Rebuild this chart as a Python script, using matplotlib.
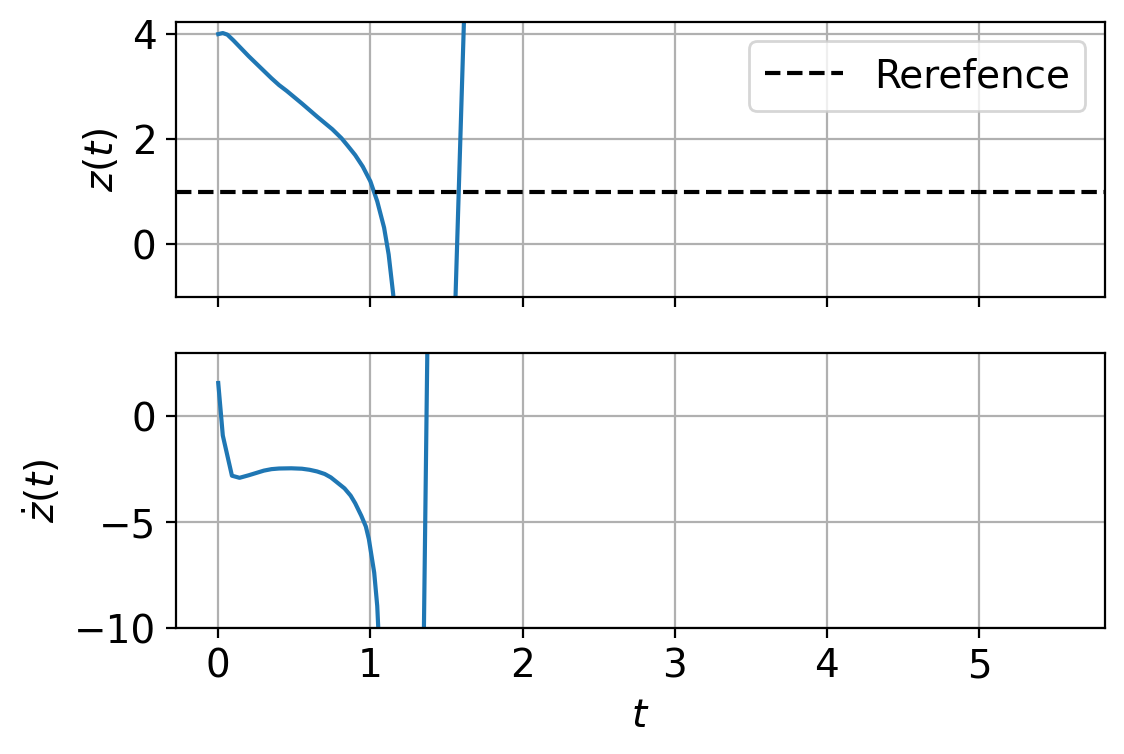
import matplotlib

matplotlib.use("Agg")
import matplotlib.pyplot as plt

# z(t); the curve blows up past t ~ 1.15
t_z = [0.0, 0.03, 0.06, 0.10, 0.15, 0.20, 0.25, 0.30, 0.35, 0.40, 0.45, 0.50,
       0.55, 0.61, 0.65, 0.70, 0.75, 0.81, 0.85, 0.90, 0.95, 1.00, 1.045, 1.09,
       1.12, 1.15, 1.20, 1.50, 1.70]
z = [4.00, 4.02, 3.99, 3.88, 3.73, 3.58, 3.44, 3.30, 3.16, 3.03, 2.92, 2.80,
     2.68, 2.53, 2.43, 2.31, 2.19, 2.02, 1.88, 1.70, 1.48, 1.20, 0.82, 0.32,
     -0.19, -0.95, -3.0, -6.63, 12.3]

# dz/dt
t_dz = [0.0, 0.03, 0.09, 0.14, 0.20, 0.25, 0.30, 0.35, 0.40, 0.48, 0.55, 0.60,
        0.65, 0.70, 0.74, 0.78, 0.83, 0.87, 0.90, 0.94, 0.97, 0.99, 1.025, 1.045,
        1.055, 1.07, 1.33, 1.40]
dz = [1.58, -0.90, -2.80, -2.90, -2.78, -2.67, -2.56, -2.49, -2.46, -2.45, -2.47,
      -2.52, -2.60, -2.72, -2.88, -3.11, -3.40, -3.74, -4.10, -4.69, -5.20, -5.80,
      -7.38, -8.96, -10.5, -14.0, -22.8, 18.2]

z_ref = 1.0

plt.rcParams["font.size"] = 14

figure, (ax_z, ax_dz) = plt.subplots(2, 1, sharex=True, figsize=(5.62, 3.77), dpi=200)
figure.subplots_adjust(left=0.1566, right=0.983, top=0.9708, bottom=0.1671, hspace=0.2036)

ax_z.plot(t_z, z, color="#1f77b4")
ax_z.axhline(z_ref, color="k", linestyle="--", label="Rerefence")
ax_z.set_ylim(-1.0, 4.23)
ax_z.set_ylabel("$z(t)$")
ax_z.grid(True)
ax_z.legend(loc="upper right")

ax_dz.plot(t_dz, dz, color="#1f77b4")
ax_dz.set_ylim(-10, 3)
ax_dz.set_ylabel(r"$\dot{z}(t)$")
ax_dz.set_xlabel("$t$")
ax_dz.grid(True)

ax_dz.set_xlim(-0.2775, 5.8275)
ax_dz.set_xticks([0, 1, 2, 3, 4, 5])

figure.savefig("out.png", dpi=200)
